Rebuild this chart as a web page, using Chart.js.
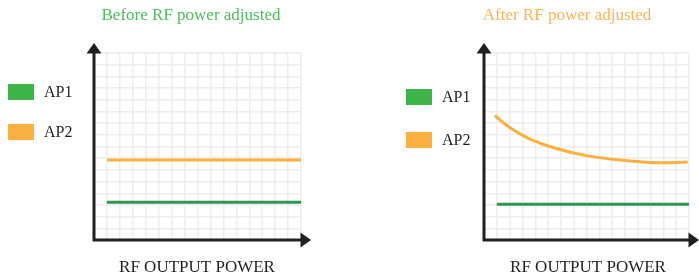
<!DOCTYPE html>
<html>
<head>
<meta charset="utf-8">
<script src="https://cdn.jsdelivr.net/npm/chart.js@4"></script>
<style>
  body { margin: 0; background: #fff; }
  canvas { position: absolute; top: 0; }
  #before { left: 0; }
  #after { left: 350px; }
</style>
</head>
<body>
<canvas id="before" width="350" height="280"></canvas>
<canvas id="after" width="349" height="280"></canvas>
<script>
// chart values
const panelTitles = ['Before RF power adjusted', 'After RF power adjusted']
const seriesNames = ['AP1', 'AP2']
const xAxisLabel = 'RF OUTPUT POWER'

const beforeX = [1, 16]
const beforeAP1 = [3.22, 3.22]
const beforeAP2 = [6.84, 6.84]

const afterAP1X = [1, 16]
const afterAP1 = [3.05, 3.05]
const afterAP2X = [0.85, 2, 3.5, 5.5, 8, 11, 13.5, 15.9]
const afterAP2 = [10.65, 9.62, 8.68, 7.87, 7.22, 6.8, 6.61, 6.67]

let lineGreen = '#2e9552'
let boxGreen = '#3bb54a'
let orange = '#fbb040'
let titleGreen = '#4cbd5a'
let titleOrange = '#fbb455'
let axisColor = '#231f20'
let gridColor = '#ededed'
let serif = '"Liberation Serif", "Times New Roman", serif'

function pts(xs, ys) {
    return xs.map((x, i) => ({ x: x, y: ys[i] }))
}

// axes with arrows, title, x label and legend
const decor = {
    id: 'decor',
    afterDraw(chart, args, o) {
        let c = chart.ctx
        let a = chart.chartArea
        c.save()
        c.strokeStyle = axisColor
        c.fillStyle = axisColor
        c.lineWidth = 3
        c.beginPath()
        c.moveTo(a.left, a.bottom + 1.5)
        c.lineTo(a.left, a.top)
        c.moveTo(a.left - 1.5, a.bottom)
        c.lineTo(a.right, a.bottom)
        c.stroke()
        c.beginPath()
        c.moveTo(a.left, a.top - 10)
        c.lineTo(a.left - 7.5, a.top + 0.5)
        c.lineTo(a.left + 7.5, a.top + 0.5)
        c.closePath()
        c.fill()
        c.beginPath()
        c.moveTo(a.right + 10, a.bottom)
        c.lineTo(a.right - 0.5, a.bottom - 7.5)
        c.lineTo(a.right - 0.5, a.bottom + 7.5)
        c.closePath()
        c.fill()

        c.textAlign = 'center'
        c.textBaseline = 'alphabetic'
        c.font = '17px ' + serif
        c.fillStyle = o.titleColor
        c.fillText(o.title, o.titleX, 19.5)
        c.fillStyle = '#231f20'
        c.fillText(xAxisLabel, o.labelX, 271.5)

        c.textAlign = 'left'
        c.textBaseline = 'middle'
        c.font = '16px ' + serif
        seriesNames.forEach(function(name, i) {
            let y = o.legendY + i * o.legendGap
            c.fillStyle = i == 0 ? boxGreen : orange
            c.fillRect(o.legendX, y, 26, 16)
            c.fillStyle = '#231f20'
            c.fillText(name, o.legendX + 36, y + 8.5)
        })
        c.restore()
    }
}

function panel(id, datasets, pad, decorOpts) {
    const ctx = document.getElementById(id).getContext('2d')
    return new Chart(ctx, {
        type: 'line',
        data: { datasets: datasets },
        options: {
            responsive: false,
            animation: false,
            devicePixelRatio: 1,
            layout: { padding: pad },
            plugins: {
                legend: { display: false },
                title: { display: false },
                tooltip: { enabled: false },
                decor: decorOpts
            },
            scales: {
                x: {
                    type: 'linear', min: 0, max: 16,
                    ticks: { display: false, stepSize: 1, maxTicksLimit: 20 },
                    grid: { color: gridColor, lineWidth: 1.5, drawTicks: false },
                    border: { display: false }
                },
                y: {
                    type: 'linear', min: 0, max: 16,
                    ticks: { display: false, stepSize: 1, maxTicksLimit: 20 },
                    grid: { color: gridColor, lineWidth: 1.5, drawTicks: false },
                    border: { display: false }
                }
            }
        },
        plugins: [decor]
    })
}

panel('before', [
    { label: seriesNames[1], data: pts(beforeX, beforeAP2), borderColor: orange, borderWidth: 3, pointRadius: 0 },
    { label: seriesNames[0], data: pts(beforeX, beforeAP1), borderColor: lineGreen, borderWidth: 3, pointRadius: 0 }
], { left: 94, right: 49, top: 53, bottom: 40 },
{ title: panelTitles[0], titleColor: titleGreen, titleX: 191, labelX: 197, legendX: 8, legendY: 84, legendGap: 40 })

panel('after', [
    { label: seriesNames[1], data: pts(afterAP2X, afterAP2), borderColor: orange, borderWidth: 3, pointRadius: 0, tension: 0.4 },
    { label: seriesNames[0], data: pts(afterAP1X, afterAP1), borderColor: lineGreen, borderWidth: 3, pointRadius: 0 }
], { left: 134, right: 10, top: 53, bottom: 40 },
{ title: panelTitles[1], titleColor: titleOrange, titleX: 217, labelX: 238, legendX: 56, legendY: 89, legendGap: 43 })
</script>
</body>
</html>
